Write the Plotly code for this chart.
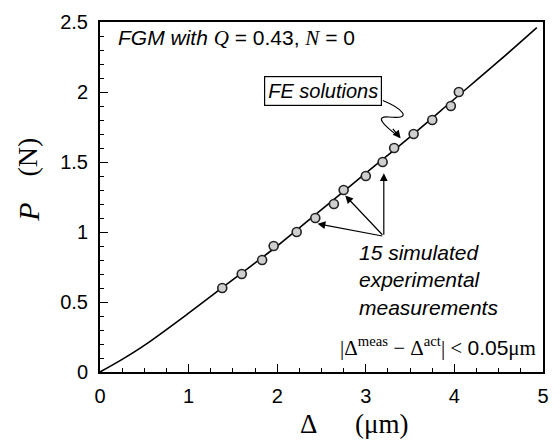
import plotly.graph_objects as go

# FE solution curve
fe_delta = [0, 0.25, 0.5, 1.0, 1.5, 2.0, 2.5, 3.0, 3.5, 4.0, 4.5, 4.93]
fe_P = [0, 0.09, 0.19, 0.42, 0.66, 0.90, 1.16, 1.42, 1.68, 1.95, 2.22, 2.46]

# 15 simulated experimental measurements
meas_delta = [1.38, 1.60, 1.83, 1.96, 2.22, 2.43, 2.64, 2.75, 3.00, 3.19, 3.32, 3.54, 3.75, 3.96, 4.05]
meas_P = [0.6, 0.7, 0.8, 0.9, 1.0, 1.1, 1.2, 1.3, 1.4, 1.5, 1.6, 1.7, 1.8, 1.9, 2.0]

x_ticks = [0, 1, 2, 3, 4, 5]
y_ticks = [0, 0.5, 1, 1.5, 2, 2.5]
y_ticklabels = ["0", "0.5", "1", "1.5", "2", "2.5"]

W, H = 560, 447
L, R, T, B = 100, 12, 11, 75
X0, X1 = 0, 5
Y0, Y1 = 0, 2.5
PW, PH = W - L - R, H - T - B


def px(xp):
    return X0 + (xp - L) / PW * (X1 - X0)


def py(yp):
    return Y0 + (H - B - yp) / PH * (Y1 - Y0)


def ppx(xp):
    return (xp - L) / PW


def ppy(yp):
    return (H - B - yp) / PH


SANS = "Liberation Sans, Arial, sans-serif"
SERIF = "Liberation Serif, Times New Roman, serif"

fig = go.Figure()
fig.add_trace(go.Scatter(x=fe_delta, y=fe_P, mode="lines", line=dict(color="black", width=1.6, shape="spline"),
                         showlegend=False, hoverinfo="skip"))
fig.add_trace(go.Scatter(x=meas_delta, y=meas_P, mode="markers",
                         marker=dict(size=9, color="#cfcfcf", line=dict(color="#222222", width=1.6)),
                         showlegend=False))

ann = []
# top-left label
ann.append(dict(x=ppx(116), y=ppy(28), xref="paper", yref="paper", xanchor="left", yanchor="middle",
                showarrow=False,
                text=("<i>FGM with </i><span style='font-family:Liberation Serif'><i>Q</i></span> = 0.43, "
                      "<span style='font-family:Liberation Serif'><i>N</i></span> = 0"),
                font=dict(family=SANS, size=21, color="black")))
# FE solutions box
ann.append(dict(x=ppx(385), y=ppy(82), xref="paper", yref="paper", xanchor="right", yanchor="middle",
                showarrow=False, text="<i>FE solutions</i>", font=dict(family=SANS, size=20, color="black"),
                bordercolor="black", borderwidth=1.2, borderpad=3, bgcolor="white"))
# arrowhead for FE solutions curvy pointer
ann.append(dict(x=px(404), y=py(131), xref="x", yref="y", ax=-9, ay=-11, axref="pixel", ayref="pixel",
                showarrow=True, arrowhead=2, arrowsize=1.3, arrowwidth=1.2, arrowcolor="black", text=""))
# 15 simulated text
ann.append(dict(x=ppx(360), y=ppy(277), xref="paper", yref="paper", xanchor="left", yanchor="middle",
                showarrow=False, align="left", text="<i>15 simulated<br>experimental<br>measurements</i>",
                font=dict(family=SANS, size=21, color="black")))
# three arrows from a common origin
origin = (387, 232)
for tip in [(320, 219), (348, 190), (387, 167)]:
    ann.append(dict(x=px(tip[0]), y=py(tip[1]), xref="x", yref="y",
                    ax=px(origin[0]), ay=py(origin[1]), axref="x", ayref="y",
                    showarrow=True, arrowhead=2, arrowsize=1.3, arrowwidth=1.2, arrowcolor="black", text=""))
# tolerance text
ann.append(dict(x=ppx(543), y=ppy(346), xref="paper", yref="paper", xanchor="right", yanchor="middle",
                showarrow=False,
                text=("|\u0394<sup>meas</sup> \u2212 \u0394<sup>act</sup>| &lt; "
                      "<span style='font-family:Liberation Sans'>0.05</span>\u03bcm"),
                font=dict(family=SERIF, size=21, color="black")))
# axis titles (paper-referenced, outside the plot area)
ann.append(dict(x=ppx(311), y=ppy(426), xref="paper", yref="paper", showarrow=False, text="\u0394",
                xanchor="center", yanchor="middle", font=dict(family=SERIF, size=27, color="black")))
ann.append(dict(x=ppx(385), y=ppy(426), xref="paper", yref="paper", showarrow=False, text="(\u03bcm)",
                xanchor="center", yanchor="middle", font=dict(family=SERIF, size=27, color="black")))
ann.append(dict(x=ppx(27), y=ppy(207), xref="paper", yref="paper", showarrow=False, text="<i>P</i>",
                textangle=-90, xanchor="center", yanchor="middle", font=dict(family=SERIF, size=30, color="black")))
ann.append(dict(x=ppx(27), y=ppy(150), xref="paper", yref="paper", showarrow=False, text="(N)",
                textangle=-90, xanchor="center", yanchor="middle", font=dict(family=SERIF, size=28, color="black")))

fig.update_layout(
    width=W, height=H, margin=dict(l=L, r=R, t=T, b=B),
    plot_bgcolor="white", paper_bgcolor="white",
    annotations=ann,
    shapes=[dict(type="path", xref="x", yref="y", line=dict(color="black", width=1.2),
                 path=(f"M {px(386)},{py(92)} C {px(405)},{py(100)} {px(418)},{py(112)} {px(392)},{py(109)} "
                       f"C {px(378)},{py(108)} {px(385)},{py(116)} {px(403)},{py(130)}"))],
)
fig.update_xaxes(range=[X0, X1], tickvals=x_ticks, ticks="inside", ticklen=8, tickwidth=1.2, tickcolor="black",
                 showline=True, linewidth=2, linecolor="black", mirror=True, showgrid=False, zeroline=False,
                 minor=dict(dtick=0.25, ticks="inside", ticklen=4, tickwidth=1, tickcolor="black", showgrid=False),
                 tickfont=dict(family=SANS, size=20, color="black"), ticklabelstandoff=5)
fig.update_yaxes(range=[Y0, Y1], tickvals=y_ticks, ticktext=y_ticklabels, ticks="inside", ticklen=8, tickwidth=1.2,
                 tickcolor="black", showline=True, linewidth=2, linecolor="black", mirror=True, showgrid=False,
                 zeroline=False,
                 minor=dict(dtick=0.1, ticks="inside", ticklen=4, tickwidth=1, tickcolor="black", showgrid=False),
                 tickfont=dict(family=SANS, size=20, color="black"), ticklabelstandoff=6)

fig.write_html("out.html")
